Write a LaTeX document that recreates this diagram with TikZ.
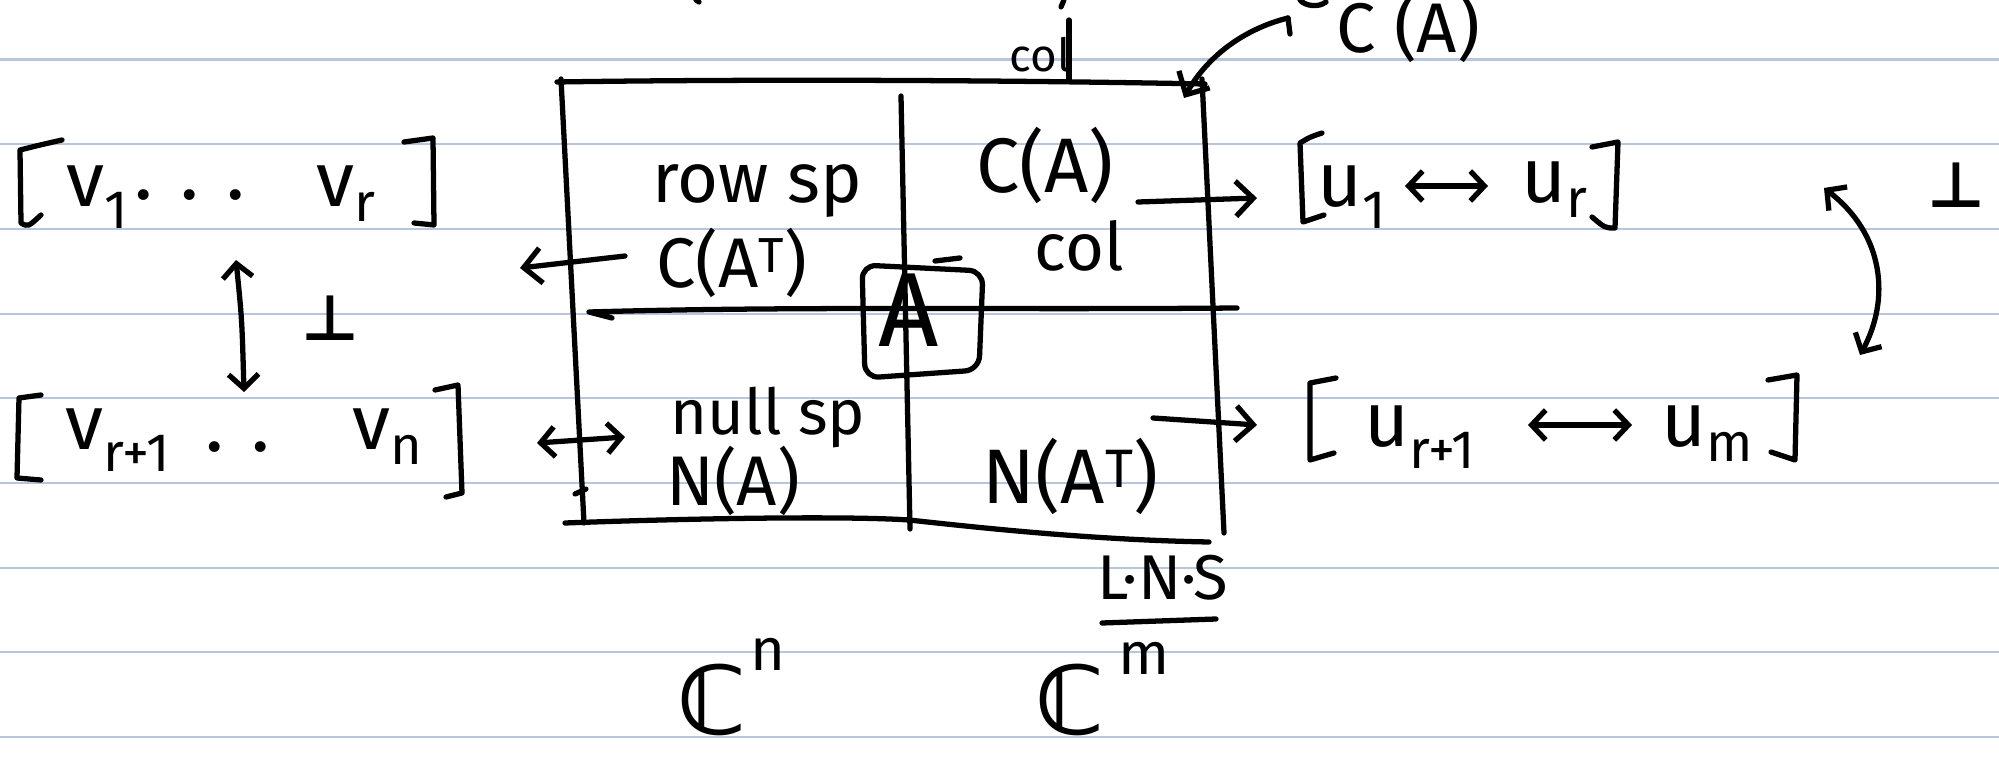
\documentclass[tikz,border=0pt]{standalone}
\usepackage{fontspec}
\setmainfont{Fira Sans}
\newfontfamily\symfont{DejaVu Sans}
\usetikzlibrary{arrows.meta}
\definecolor{ruleblue}{RGB}{182,198,222}
\begin{document}
\begin{tikzpicture}[x=0.02cm,y=-0.02cm,
  ink/.style={line width=3pt,line cap=round,line join=round},
  barb/.style={ink,-{Straight Barb[length=10pt,width=20pt]}},
  dbarb/.style={ink,{Straight Barb[length=8pt,width=17pt]}-{Straight Barb[length=8pt,width=17pt]}},
  lbl/.style={inner sep=0pt,anchor=base,font=\fontsize{#1pt}{#1pt}\selectfont},
  sym/.style={inner sep=0pt,font=\symfont\bfseries\fontsize{#1pt}{#1pt}\selectfont},
  ruling/.style={line width=1.2pt,draw=ruleblue}]
\useasboundingbox (0,0) rectangle (1999,763);
\fill[white] (0,0) rectangle (1999,763);
\foreach \yy in {59.5,144.2,228.9,313.6,398.3,483,567.7,652.4,737.1}
  \draw[ruling] (0,\yy) -- (1999,\yy);

% cut strokes at the top edge
\draw[ink] (696,0) -- (699,2);
\draw[ink] (1064,0) -- (1061,7);
\draw[ink] (1300,0) .. controls (1305,6) and (1318,8) .. (1326,2);

% the big box
\draw[ink] (557,82) .. controls (750,79) and (1000,80) .. (1205,84);
\draw[ink] (561,79) -- (584,523);
\draw[ink] (1202,79) -- (1224,533);
\draw[ink] (901,96) -- (910,529);
\draw[ink] (612,318) -- (589,312) .. controls (800,306) and (1000,310) .. (1237,308);
\draw[ink] (565,523) .. controls (700,518) and (850,516) .. (909,520) .. controls (1000,530) and (1100,540) .. (1209,542);
\draw[ink] (575,494) -- (586,489);

% col tick and label
\draw[ink] (1069,20) -- (1069,81);
\node[lbl=26] (coltop) at (1040,72) {col};

% top right C(A) with curved arrow
\node[lbl=40] (cattop) at (1408,53) {C (A)};
\coordinate (ts) at (1288,18);
\coordinate (te) at (1184,98);
\draw[ink] (1290,34) -- (ts);
\draw[barb] (ts) .. controls (1240,30) and (1205,60) .. (te);

% labels in the box
\node[lbl=40] (rowsp) at (757,203) {row sp};
\node[lbl=40] (cat) at (732,288) {C(A\textsuperscript{T})};
\node[lbl=44] (ca) at (1045,193) {C(A)};
\node[lbl=38] (colin) at (1079,271) {col};
\node[lbl=36] (nullsp) at (768,435) {null sp};
\node[lbl=40] (na) at (733,505) {N(A)};
\node[lbl=44] (nat) at (1071,503) {N(A\textsuperscript{T})};

% A box
\node[lbl=60] (bigA) at (909,347) {A};
\draw[ink,rounded corners=8pt] (862,265) -- (983,271) -- (979,370) -- (865,378) -- cycle;
\draw[ink] (935,261) -- (960,258);

% L.N.S and underline
\node[lbl=36] (lns) at (1163,600) {L·N·S};
\coordinate (ula) at (1102,623);
\coordinate (ulb) at (1216,619);
\draw[ink] (ula) -- (ulb);

% C^n, C^m
\node[sym=54] (cn) at (712,700) {ℂ};
\node[lbl=34] (cnsup) at (768,670) {n};
\node[sym=54] (cm) at (1070,700) {ℂ};
\node[lbl=34] (cmsup) at (1144,674) {m};

% left brackets
\draw[ink] (62,140) .. controls (40,145) .. (20,150) -- (21,223) .. controls (28,227) .. (41,215);
\draw[ink] (404,142) -- (433,138) -- (434,225) -- (414,223);
\node[lbl=44] (v1) at (98,207) {v\textsubscript{1}};
\node[lbl=44] (vdots) at (190,200) {. . .};
\node[lbl=44] (vr) at (346,207) {v\textsubscript{r}};

\draw[ink] (41,395) -- (19,398) -- (17,478) -- (41,480);
\draw[ink] (435,390) -- (458,385) -- (462,493) -- (446,497);
\node[lbl=44] (vr1) at (118,450) {v\textsubscript{r+1}};
\node[lbl=44] (vdd) at (238,452) {. .};
\node[lbl=44] (vn) at (388,450) {v\textsubscript{n}};

\coordinate (lpa) at (236,260);
\coordinate (lpb) at (244,392);
\draw[dbarb] (lpa) .. controls (242,320) .. (lpb);
\node[sym=36] (perpl) at (330,318) {⊥};

% right brackets
\draw[ink] (1322,133) .. controls (1310,137) .. (1300,143) -- (1303,222) -- (1324,215);
\draw[ink] (1592,147) -- (1618,142) -- (1615,228) .. controls (1605,228) .. (1592,217);
\node[lbl=44] (u1) at (1352,207) {u\textsubscript{1}};
\node[lbl=44] (ur) at (1555,203) {u\textsubscript{r}};
\coordinate (uaa) at (1405,186);
\coordinate (uab) at (1488,186);
\draw[dbarb] (uaa) -- (uab);

\draw[ink] (1336,378) -- (1310,383) -- (1310,460) -- (1334,453);
\draw[ink] (1768,380) -- (1797,375) -- (1795,460) -- (1771,452);
\node[lbl=44] (ur1) at (1420,447) {u\textsubscript{r+1}};
\node[lbl=44] (um) at (1708,447) {u\textsubscript{m}};
\coordinate (uba) at (1528,425);
\coordinate (ubb) at (1632,425);
\draw[dbarb] (uba) -- (ubb);

\coordinate (rpa) at (1824,188);
\coordinate (rpb) at (1860,355);
\draw[dbarb] (rpa) .. controls (1885,235) and (1890,300) .. (rpb);
\node[sym=36] (perpr) at (1956,185) {⊥};

% arrows out of the box
\coordinate (a1s) at (625,256);
\coordinate (a1e) at (520,268);
\draw[barb] (a1s) -- (a1e);
\coordinate (a2s) at (625,437);
\coordinate (a2e) at (537,443);
\draw[dbarb] (a2s) -- (a2e);
\coordinate (a3s) at (1138,202);
\coordinate (a3e) at (1257,198);
\draw[barb] (a3s) -- (a3e);
\coordinate (a4s) at (1153,418);
\coordinate (a4e) at (1257,425);
\draw[barb] (a4s) -- (a4e);
\end{tikzpicture}
\end{document}
